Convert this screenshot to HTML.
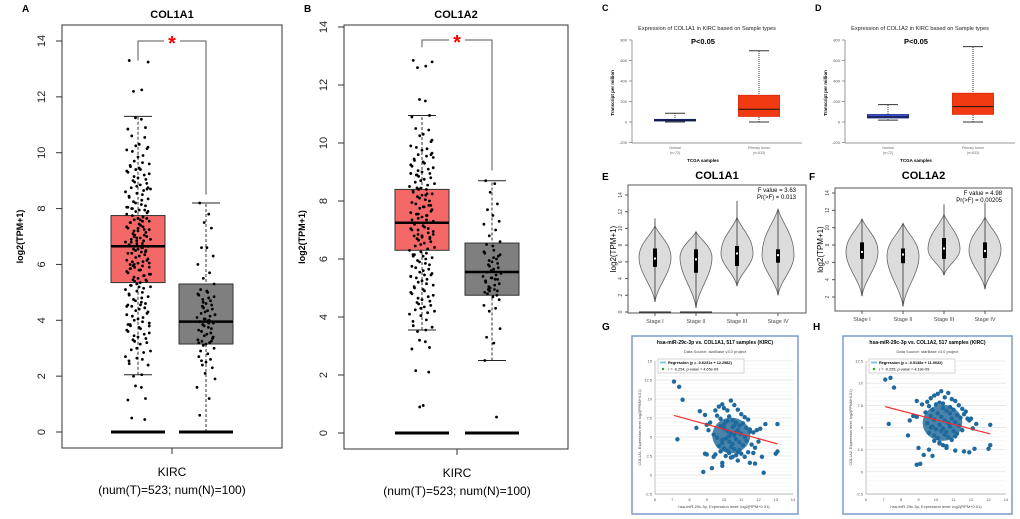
<!DOCTYPE html>
<html><head><meta charset="utf-8"><style>
html,body{margin:0;padding:0;background:#fff}
svg{display:block;font-family:"Liberation Sans",sans-serif}
</style></head><body>
<svg id="s" width="1020" height="519" viewBox="0 0 1020 519" xmlns="http://www.w3.org/2000/svg"></svg>
<script>
// ---- data ----
const aTumorStats=[2.05,5.35,6.65,7.75,11.3];
const aNormalStats=[0,3.15,3.95,5.3,8.2];
const bTumorStats=[3.55,6.3,7.25,8.4,10.95];
const bNormalStats=[2.5,4.75,5.55,6.55,8.7];
const aTumorPts=[13.3,12.25,11.25,10.9,10.6,10.3,10.2,10.1,9.9,9.7,9.6,9.5,9.4,9.3,9.2,9.1,9.0,8.9,8.8,8.7,8.6,8.5,8.4,8.3,8.2,8.1,8.0,7.95,7.9,7.8,7.7,7.6,7.55,7.5,7.4,7.3,7.25,7.2,7.1,7.0,6.95,6.9,6.8,6.75,6.7,6.6,6.5,6.45,6.4,6.3,6.2,6.15,6.1,6.0,5.9,5.85,5.8,5.7,5.6,5.5,5.45,5.4,5.3,5.2,5.1,5.0,4.9,4.8,4.7,4.6,4.5,4.4,4.3,4.2,4.1,4.0,3.9,3.8,3.7,3.6,3.5,3.4,3.3,3.2,3.0,2.9,2.7,2.6,2.45,2.05,1.65,1.2,0.5,9.45,8.75,8.05,7.35,6.65,6.05,5.25,4.55,3.85,7.05,6.55,5.95,7.65,6.85,5.65];
const aNormalPts=[8.2,7.8,7.5,7.3,6.6,6.6,6.3,6.0,5.7,5.5,5.3,5.1,5.0,4.9,4.7,4.6,4.5,4.4,4.3,4.2,4.1,4.0,3.95,3.9,3.8,3.7,3.6,3.5,3.4,3.3,3.2,3.1,3.0,2.9,2.8,2.7,2.6,2.5,2.4,2.3,2.1,1.9,1.6,1.2,0.6,4.8,4.05,3.25,2.55];
const bTumorPts=[12.85,12.65,11.5,10.95,10.5,10.3,10.1,9.9,9.8,9.6,9.5,9.4,9.3,9.2,9.1,9.0,8.9,8.8,8.7,8.6,8.5,8.4,8.3,8.2,8.1,8.0,7.9,7.8,7.7,7.6,7.5,7.4,7.3,7.2,7.1,7.0,6.9,6.8,6.7,6.6,6.5,6.4,6.3,6.2,6.1,6.0,5.9,5.8,5.7,5.6,5.5,5.4,5.3,5.2,5.1,5.0,4.9,4.8,4.7,4.6,4.5,4.4,4.3,4.2,4.1,3.9,3.7,3.55,3.2,2.95,2.15,0.95,9.65,8.95,8.25,7.55,6.85,6.15,5.45,7.35,7.05,6.75,8.45,7.85];
const bNormalPts=[8.7,8.6,8.3,7.9,7.7,7.5,7.3,7.2,7.0,6.8,6.6,6.5,6.3,6.2,6.0,5.9,5.8,5.7,5.6,5.5,5.4,5.3,5.2,5.1,5.0,4.9,4.8,4.7,4.6,4.4,4.3,4.2,3.6,3.3,3.1,2.5,0.55,5.35,4.95,6.1];
const cNormal=[0,12,18,25,85], cTumor=[0,55,125,260,695];
const dNormal=[18,40,50,72,170], dTumor=[0,75,150,280,735];
const stages=["Stage I","Stage II","Stage III","Stage IV"];
// violin: [min, max, mode, q1, median, q3, whiskerTop]
const eViol=[[1.2,10.3,6.5,5.4,6.4,7.6,11.2],[0.5,9.6,6.5,4.7,6.3,7.5,9.6],[3.1,11.3,7.0,5.5,7.0,7.9,13.3],[2.0,12.3,6.8,5.9,6.8,7.5,12.3]];
const fViol=[[2.1,11.0,7.2,6.4,7.2,8.3,11.0],[0.9,10.5,6.7,5.9,6.9,7.6,10.5],[4.5,11.5,7.5,6.4,7.6,8.8,12.7],[2.9,11.2,7.4,6.5,7.3,8.3,12.9]];
const gX=[7.1,7.4,7.6,7.3,8.6,8.4,8.9,9.0,9.1,8.9,9.2,9.5,9.7,9.9,10.0,10.2,10.4,10.6,10.8,11.0,11.2,11.4,9.6,9.8,10.1,10.3,10.5,10.7,10.9,11.1,11.3,11.5,11.7,11.9,12.1,12.4,13.1,13.1,13.0,9.8,10.0,10.2,10.4,10.6,10.8,11.0,11.2,9.4,9.6,9.9,10.1,10.3,10.5,10.7,10.9,11.1,11.3,11.6,11.8,12.0,9.7,10.0,10.2,10.4,10.6,10.8,11.0,9.5,9.8,10.1,10.3,10.5,10.7,10.9,11.2,11.4,11.7,10.0,10.2,10.5,10.7,9.9,10.3,10.6,10.9,11.5,11.5,12.2,8.8,9.3,9.9,9.9,9.0,9.4,10.4,10.8,11.8,12.3];
const gY=[12.3,11.6,9.9,4.7,8.4,6.2,7.9,6.6,5.9,2.8,6.9,8.5,9.0,9.3,8.8,8.5,9.8,9.2,8.6,8.0,7.6,7.3,7.8,7.4,7.0,7.7,7.2,6.9,6.5,6.8,6.2,6.0,5.6,5.9,6.1,6.7,6.7,3.1,2.8,6.4,6.1,5.8,5.5,5.2,5.9,5.4,5.0,5.3,4.9,4.6,4.8,4.4,4.1,4.7,4.3,3.9,4.5,4.0,3.6,4.4,3.8,3.5,3.2,3.7,3.4,3.0,2.8,2.7,3.1,2.5,2.9,2.4,2.6,3.3,2.4,3.0,2.9,6.6,7.1,6.3,5.7,4.2,5.1,6.5,5.5,1.6,5.7,2.4,0.4,0.9,1.6,1.2,2.7,2.4,2.3,1.9,1.5,0.3];
const hX=[7.1,7.4,7.6,7.3,8.4,8.7,8.9,9.0,9.2,9.5,9.7,9.9,10.1,10.3,10.5,10.7,10.9,11.1,11.3,11.5,11.7,9.6,9.8,10.0,10.2,10.4,10.6,10.8,11.0,11.2,11.4,11.6,11.8,12.0,12.3,13.1,13.1,13.0,9.4,9.7,9.9,10.1,10.3,10.5,10.7,10.9,11.1,11.3,11.9,12.1,9.5,9.8,10.0,10.2,10.4,10.6,10.8,11.0,11.2,11.5,9.6,9.9,10.1,10.3,10.5,10.7,10.9,11.1,9.9,10.2,10.4,10.6,8.5,8.9,8.9,9.1,9.3,9.6,9.8,11.6,11.9,12.2,10.2,10.6,11.1,10.4,10.8,9.7];
const hY=[10.4,10.6,9.5,5.4,4.1,6.3,8.0,2.7,7.6,7.9,8.3,8.6,8.8,9.1,8.4,8.9,8.2,8.0,7.5,7.1,6.8,7.4,7.0,7.6,7.8,7.2,6.9,6.6,7.0,6.4,6.1,6.5,6.0,6.0,5.4,5.3,3.0,2.6,6.7,6.3,5.9,6.6,6.2,5.8,5.5,6.0,5.6,5.2,5.8,4.9,5.5,5.1,4.8,5.3,4.9,4.5,5.1,4.6,4.3,4.7,4.4,4.1,3.8,4.6,4.2,3.9,3.6,4.0,3.5,3.2,3.0,2.9,5.8,6.2,0.8,0.9,1.9,2.5,1.8,2.3,2.2,2.6,3.3,2.7,2.4,7.7,7.3,5.0];
const gReg=[-0.6231,12.2582], hReg=[-0.5138,11.0032];
// ---- helpers ----
const S=document.getElementById('s');const NS='http://www.w3.org/2000/svg';
function el(t,a,p){const e=document.createElementNS(NS,t);for(const k in a)e.setAttribute(k,a[k]);(p||S).appendChild(e);return e;}
function tx(x,y,s,a,p){const e=el('text',Object.assign({x:x,y:y},a),p);e.textContent=s;return e;}
function grp(name){const g=el('g',{});return g;}
const jit=[-7,3,-2,6,-5,1,8,-9,4,-3,9,-6,2,-8,5,0,-4,7,-1,10,-10,3.5];
function lin(d0,d1,r0,r1){return v=>r0+(v-d0)*(r1-r0)/(d1-d0);}
function mean(a){return a.reduce((s,v)=>s+v,0)/a.length;}
function sd(a){const m=mean(a);return Math.sqrt(a.reduce((s,v)=>s+(v-m)*(v-m),0)/a.length);}

function gepia(name,letter,title,L,R,T,B,y,tc,nc,ts,ns,tp,np,brY,brR,lx){
  const g=grp(name);
  tx(L-40,12,letter,{'font-size':10,'font-weight':'bold'},g);
  tx((L+R)/2,18,title,{'font-size':11,'font-weight':'bold','text-anchor':'middle'},g);
  el('rect',{x:L,y:T,width:R-L,height:B-T,fill:'none',stroke:'#333','stroke-width':1},g);
  for(let v=0;v<=14;v+=2){el('line',{x1:L-6,x2:L,y1:y(v),y2:y(v),stroke:'#333'},g);
    tx(L-17,y(v),String(v),{'font-size':11,'text-anchor':'middle',transform:`rotate(-90 ${L-17} ${y(v)})`,fill:'#222'},g);}
  tx(lx,(T+B)/2,'log2(TPM+1)',{'font-size':9,'font-weight':'bold','text-anchor':'middle',transform:`rotate(-90 ${lx} ${(T+B)/2})`},g);
  const xc=(tc+nc)/2;el('line',{x1:xc,x2:xc,y1:B,y2:B+6,stroke:'#333'},g);
  tx(xc,B+28,'KIRC',{'font-size':12,'text-anchor':'middle'},g);
  tx(xc,B+46,'(num(T)=523; num(N)=100)',{'font-size':12,'text-anchor':'middle'},g);
  [[tc,ts,'#f46868',tp],[nc,ns,'#7f7f7f',np]].forEach(([c,st,col,pts],k)=>{
    const w=27;
    el('line',{x1:c,x2:c,y1:y(st[0]),y2:y(st[4]),stroke:'#333','stroke-dasharray':'3,2'},g);
    el('line',{x1:c-14,x2:c+14,y1:y(st[4]),y2:y(st[4]),stroke:'#222'},g);
    el('line',{x1:c-14,x2:c+14,y1:y(st[0]),y2:y(st[0]),stroke:'#222'},g);
    const r=el('rect',{x:c-w,y:y(st[3]),width:2*w,height:y(st[1])-y(st[3]),fill:col,stroke:'#333'},g);
    
    el('line',{x1:c-w,x2:c+w,y1:y(st[2]),y2:y(st[2]),stroke:'#000','stroke-width':2.5},g);
    el('line',{x1:c-w,x2:c+w,y1:y(0),y2:y(0),stroke:'#000','stroke-width':3},g);
    const js=k?0.9:1.25;
    pts.forEach((v,i)=>{
      const inner=(v>st[1]&&v<st[3]);
      const d=el('circle',{cx:c+jit[i%jit.length]*js,cy:y(v),r:1.4,fill:'#000'},g);
      
      if(inner||k===0){const d2=el('circle',{cx:c-jit[(i+7)%jit.length]*js*0.9,cy:y(v)+1.5,r:1.4,fill:'#000'},g);
      }
    });
  });
  el('polyline',{points:`${tc},${y(13.3)} ${tc},${brY} ${nc},${brY} ${nc},${y(brR)}`,fill:'none',stroke:'#555'},g);
  el('rect',{x:xc-8,y:brY-4,width:16,height:8,fill:'#fff'},g);
  tx(xc,brY+9,'*',{'font-size':20,'font-weight':'bold',fill:'#f00','text-anchor':'middle'},g);
}
gepia('panel-a','A','COL1A1',62,282,25,448,lin(0,14,432,41),138,206,aTumorStats,aNormalStats,aTumorPts,aNormalPts,41,8.5,23);
gepia('panel-b','B','COL1A2',344,568,25,449,lin(0,14,433,27),422,492,bTumorStats,bNormalStats,bTumorPts,bNormalPts,40,9.05,305);

function ualcan(name,letter,title,L,R,nc,tcx,ns,ts){
  const g=grp(name);const y=lin(0,800,122,40);
  tx(L-30,11,letter,{'font-size':9,'font-weight':'bold'},g);
  tx((L+R)/2-10,30,title,{'font-size':5.6,'text-anchor':'middle',fill:'#222'},g);
  tx((L+R)/2-14,44,'P<0.05',{'font-size':7.5,'font-weight':'bold','text-anchor':'middle'},g);
  el('line',{x1:L,x2:L,y1:40,y2:143,stroke:'#999'},g);el('line',{x1:L,x2:R,y1:143,y2:143,stroke:'#999'},g);
  for(let v=-200;v<=800;v+=200){el('line',{x1:L-3,x2:L,y1:y(v),y2:y(v),stroke:'#999'},g);tx(L-5,y(v)+1.5,String(v),{'font-size':4,'text-anchor':'end',fill:'#555'},g);}
  tx(L-18,93,'Transcript per million',{'font-size':4.5,'font-weight':'bold','text-anchor':'middle',transform:`rotate(-90 ${L-18} 93)`},g);
  tx(nc,149,'Normal',{'font-size':3.5,'text-anchor':'middle',fill:'#666'},g);tx(nc,154,'(n=72)',{'font-size':3.5,'text-anchor':'middle',fill:'#666'},g);
  tx(tcx,149,'Primary tumor',{'font-size':3.5,'text-anchor':'middle',fill:'#666'},g);tx(tcx,154,'(n=533)',{'font-size':3.5,'text-anchor':'middle',fill:'#666'},g);
  tx((L+R)/2-14,162,'TCGA samples',{'font-size':4.5,'font-weight':'bold','text-anchor':'middle'},g);
  [[nc,ns,'#3a55d8','#1a2a90'],[tcx,ts,'#f23a12','#e03010']].forEach(([c,st,col,sc])=>{
    el('line',{x1:c,x2:c,y1:y(st[0]),y2:y(st[4]),stroke:'#333','stroke-dasharray':'1,1'},g);
    el('line',{x1:c-10,x2:c+10,y1:y(st[4]),y2:y(st[4]),stroke:'#333'},g);
    el('line',{x1:c-10,x2:c+10,y1:y(st[0]),y2:y(st[0]),stroke:'#333'},g);
    el('rect',{x:c-20.5,y:y(st[3]),width:41,height:Math.max(1.5,y(st[1])-y(st[3])),fill:col,stroke:sc},g);
    el('line',{x1:c-20.5,x2:c+20.5,y1:y(st[2]),y2:y(st[2]),stroke:'#111','stroke-width':1},g);
  });
}
ualcan('panel-c','C','Expression of COL1A1 in KIRC based on Sample types',632,802,675,759,cNormal,cTumor);
ualcan('panel-d','D','Expression of COL1A2 in KIRC based on Sample types',845,1015,888,973,dNormal,dTumor);

function violins(name,letter,title,L,R,T,B,y,xs,data,fv,pv,zero){
  const g=grp(name);
  tx(L-26,180,letter,{'font-size':10,'font-weight':'bold'},g);
  tx((L+R)/2,179,title,{'font-size':11,'font-weight':'bold','text-anchor':'middle'},g);
  el('rect',{x:L,y:T,width:R-L,height:B-T,fill:'none',stroke:'#555'},g);
  for(let v=0;v<=14;v+=2){if(y(v)>B+3)continue;el('line',{x1:L-3,x2:L,y1:y(v),y2:y(v),stroke:'#555'},g);
    tx(L-6,y(v),String(v),{'font-size':5,'text-anchor':'middle',transform:`rotate(-90 ${L-6} ${y(v)})`,fill:'#444'},g);}
  tx(L-12,(T+B)/2,'log2(TPM+1)',{'font-size':8,'text-anchor':'middle',transform:`rotate(-90 ${L-12} ${(T+B)/2})`},g);
  tx(R-10,T+7,fv,{'font-size':6,'text-anchor':'end'},g);tx(R-10,T+14,pv,{'font-size':6,'text-anchor':'end'},g);
  data.forEach((d,i)=>{const c=xs[i];const [mn,mx,mo,q1,md,q3,wt]=d;const w=16;
    el('line',{x1:c,x2:c,y1:B,y2:B+3,stroke:'#555'},g);
    tx(c,B+10,stages[i],{'font-size':5.5,'text-anchor':'middle',fill:'#444'},g);
    const yt=y(mx),yb=y(mn),ym=y(mo);
    const p=`M${c},${yt} C${c+4},${yt+(ym-yt)*0.3} ${c+w},${ym-(ym-yt)*0.45} ${c+w},${ym} C${c+w},${ym+(yb-ym)*0.35} ${c+2},${yb-(yb-ym)*0.35} ${c},${yb} C${c-2},${yb-(yb-ym)*0.35} ${c-w},${ym+(yb-ym)*0.35} ${c-w},${ym} C${c-w},${ym-(ym-yt)*0.45} ${c-4},${yt+(ym-yt)*0.3} ${c},${yt}Z`;
    const v=el('path',{d:p,fill:'#dcdcdc',stroke:'#666','stroke-width':0.8},g);
    
    el('line',{x1:c,x2:c,y1:y(wt),y2:y(mn),stroke:'#333','stroke-width':0.8},g);
    el('rect',{x:c-2,y:y(q3),width:4,height:y(q1)-y(q3),fill:'#000'},g);
    el('rect',{x:c-1,y:y(md)-1,width:2,height:2,fill:'#fff'},g);
    if(zero[i])el('line',{x1:c-16,x2:c+16,y1:y(0),y2:y(0),stroke:'#222','stroke-width':1},g);
  });
}
violins('panel-e','E','COL1A1',628,806,185,313,lin(0,14,312,195),[655,696,737,778],eViol,'F value = 3.63','Pr(>F) = 0.013',[1,1,0,0]);
violins('panel-f','F','COL1A2',835,1012,188,311,lin(2,14,297,193),[862,903,944,985],fViol,'F value = 4.98','Pr(>F) = 0.00205',[0,0,0,0]);

function scatter(name,letter,title,gene,L,R,x,y,yt,xs,ys,reg,rtxt,ptxt){
  const g=grp(name);
  tx(L-30,330,letter,{'font-size':10,'font-weight':'bold'},g);
  el('rect',{x:L,y:336,width:R-L,height:178,fill:'#fff',stroke:'#7b9bd0','stroke-width':1.5},g);
  tx((L+R)/2,344,title,{'font-size':5,'font-weight':'bold','text-anchor':'middle'},g);
  tx((L+R)/2,353,'Data Source: starBase v3.0 project',{'font-size':4,'text-anchor':'middle',fill:'#444'},g);
  const x0=x(6),x1=x(14);
  for(let v=yt[yt.length-1];v<yt[0];v+=0.5){el('line',{x1:x0,x2:x1,y1:y(v),y2:y(v),stroke:'#ececec','stroke-width':0.4},g);}
  yt.forEach(v=>{el('line',{x1:x0,x2:x1,y1:y(v),y2:y(v),stroke:'#d8d8d8','stroke-width':0.5},g);
    tx(x0-3,y(v)+1.5,String(v),{'font-size':4,'text-anchor':'end',fill:'#555'},g);});
  el('line',{x1:x0,x2:x0,y1:y(yt[0]),y2:y(yt[yt.length-1]),stroke:'#888','stroke-width':0.5},g);
  el('line',{x1:x0,x2:x1,y1:y(yt[yt.length-1]),y2:y(yt[yt.length-1]),stroke:'#888','stroke-width':0.5},g);
  for(let v=6;v<=14;v++)tx(x(v),y(yt[yt.length-1])+7,String(v),{'font-size':4,'text-anchor':'middle',fill:'#555'},g);
  tx((x0+x1)/2,y(yt[yt.length-1])+14,'hsa-miR-29c-3p, Expression level: log2(RPM+0.01)',{'font-size':4,'text-anchor':'middle',fill:'#444'},g);
  const ym=(y(yt[0])+y(yt[yt.length-1]))/2;
  tx(x0-14,ym,gene+', Expression level: log2(FPKM+0.01)',{'font-size':3.8,'text-anchor':'middle',fill:'#444',transform:`rotate(-90 ${x0-14} ${ym})`},g);
  el('rect',{x:x0+3,y:y(yt[0])-2,width:86,height:14,fill:'#fff',stroke:'#aaa','stroke-width':0.5},g);
  el('rect',{x:x0+5,y:y(yt[0])+0.5,width:6,height:2,fill:'#7ec8e8'},g);
  tx(x0+13,y(yt[0])+3,rtxt,{'font-size':3.8,'font-weight':'bold'},g);
  el('circle',{cx:x0+8,cy:y(yt[0])+8,r:1.2,fill:'#22aa22'},g);
  tx(x0+13,y(yt[0])+9.5,ptxt,{'font-size':3.8,'font-style':'italic'},g);
  // dense core of the cloud, derived from the data
  const mx=mean(xs),my=mean(ys),sx=sd(xs),sy=sd(ys);
  const core=el('ellipse',{cx:x(mx),cy:y(my),rx:(x(mx+sx)-x(mx))*0.95,ry:(y(my)-y(my+sy))*0.95,fill:'#2a6f9c',opacity:0.85},g);
  
  xs.forEach((v,i)=>{const d=el('circle',{cx:x(v),cy:y(ys[i]),r:2.2,fill:'#1e6a9e'},g);
    });
  const l=el('line',{x1:x(7.1),x2:x(13.1),y1:y(reg[0]*7.1+reg[1]),y2:y(reg[0]*13.1+reg[1]),stroke:'#f03030','stroke-width':1.2},g);
  
}
scatter('panel-g','G','hsa-miR-29c-3p vs. COL1A1, 517 samples (KIRC)','COL1A1',632,798,lin(6,14,655,793),lin(-2.5,15,494,361),[15,12.5,10,7.5,5,2.5,0,-2.5],gX,gY,gReg,'Regression (y = -0.6231x + 12.2582)','r = -0.254, p-value = 4.65e-09');
scatter('panel-h','H','hsa-miR-29c-3p vs. COL1A2, 517 samples (KIRC)','COL1A2',843,1012,lin(6,14,866,1006),lin(-2.5,12.5,494,361),[12.5,10,7.5,5,2.5,0,-2.5],hX,hY,hReg,'Regression (y = -0.5138x + 11.0032)','r = -0.255, p-value = 4.19e-09');
</script>
</body></html>
